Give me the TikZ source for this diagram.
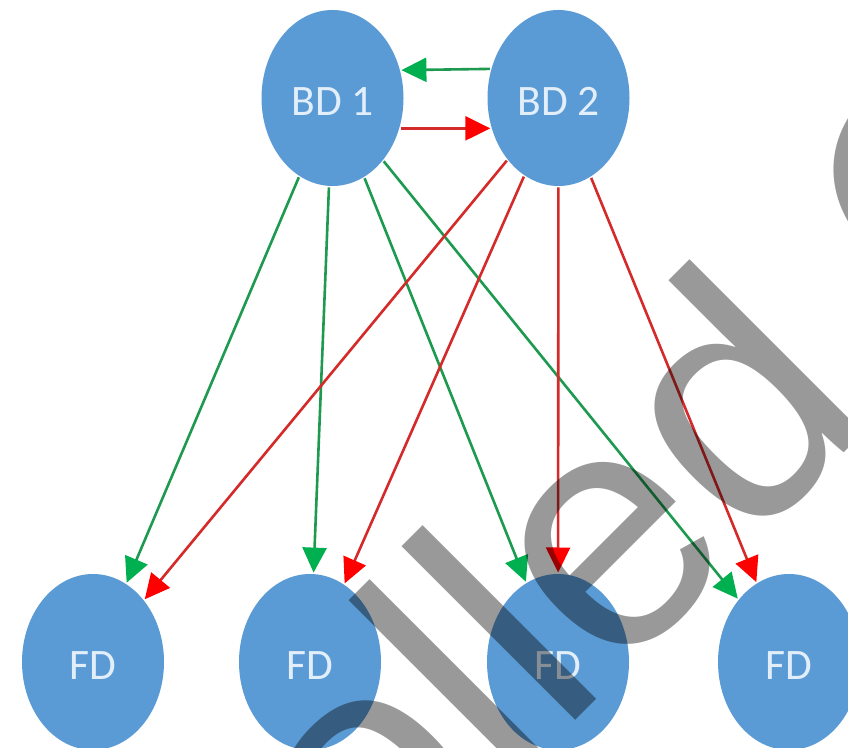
\documentclass[tikz,border=0pt]{standalone}
\usepackage{fontspec}
\setmainfont{Carlito}
\newfontfamily\wmfont{Liberation Sans}
\usetikzlibrary{arrows.meta,shapes.geometric}
\definecolor{nodeblue}{HTML}{5B9BD5}
\definecolor{nodetext}{HTML}{E2EEF9}
\definecolor{gline}{HTML}{1E9A50}
\definecolor{ghead}{HTML}{00B050}
\definecolor{rline}{HTML}{D42A2A}
\definecolor{rhead}{HTML}{FF0000}
\begin{document}
\begin{tikzpicture}[x=1pt,y=1pt,
  dnode/.style={ellipse, fill=nodeblue, draw=none, minimum width=142pt, minimum height=176pt,
    inner sep=0pt, outer sep=1.5pt, text=nodetext, text height=35pt,
    font=\fontsize{43.5}{43.5}\selectfont},
  garrow/.style={draw=gline, line width=2.6pt, -{Triangle[length=25pt,width=24pt,color=ghead]}},
  rarrow/.style={draw=rline, line width=2.6pt, -{Triangle[length=25pt,width=24pt,color=rhead]}},
  wmark/.style={anchor=base west, rotate=45, inner sep=0pt, text=black, text opacity=0.4,
    font=\wmfont\fontsize{339}{339}\selectfont}]
\useasboundingbox (0,0) rectangle (848,747);
\clip (0,0) rectangle (848,747);
\fill[white] (0,0) rectangle (848,747);

\node[dnode] (BD1) at (332.5,649) {BD 1};
\node[dnode] (BD2) at (558.5,649) {BD 2};
\node[dnode] (FD1) at (93,85) {FD};
\node[dnode] (FD2) at (310,85) {FD};
\node[dnode] (FD3) at (558,85) {FD};
\node[dnode] (FD4) at (789,85) {FD};

\draw[garrow] (BD2.157.4) -- (BD1.22.6);
\draw[rarrow] (BD1.-24.2) -- (BD2.204.2);

\draw[garrow] (BD1) -- (FD1);
\draw[garrow] (BD1) -- (FD2);
\draw[garrow] (BD1) -- (FD3);
\draw[garrow] (BD1) -- (FD4);

\draw[rarrow] (BD2) -- (FD1);
\draw[rarrow] (BD2) -- (FD2);
\draw[rarrow] (BD2) -- (FD3);
\draw[rarrow] (BD2) -- (FD4);

\node[wmark] (wm) at (-213.2,-762.7) {Controlled Copy};
\end{tikzpicture}
\end{document}
